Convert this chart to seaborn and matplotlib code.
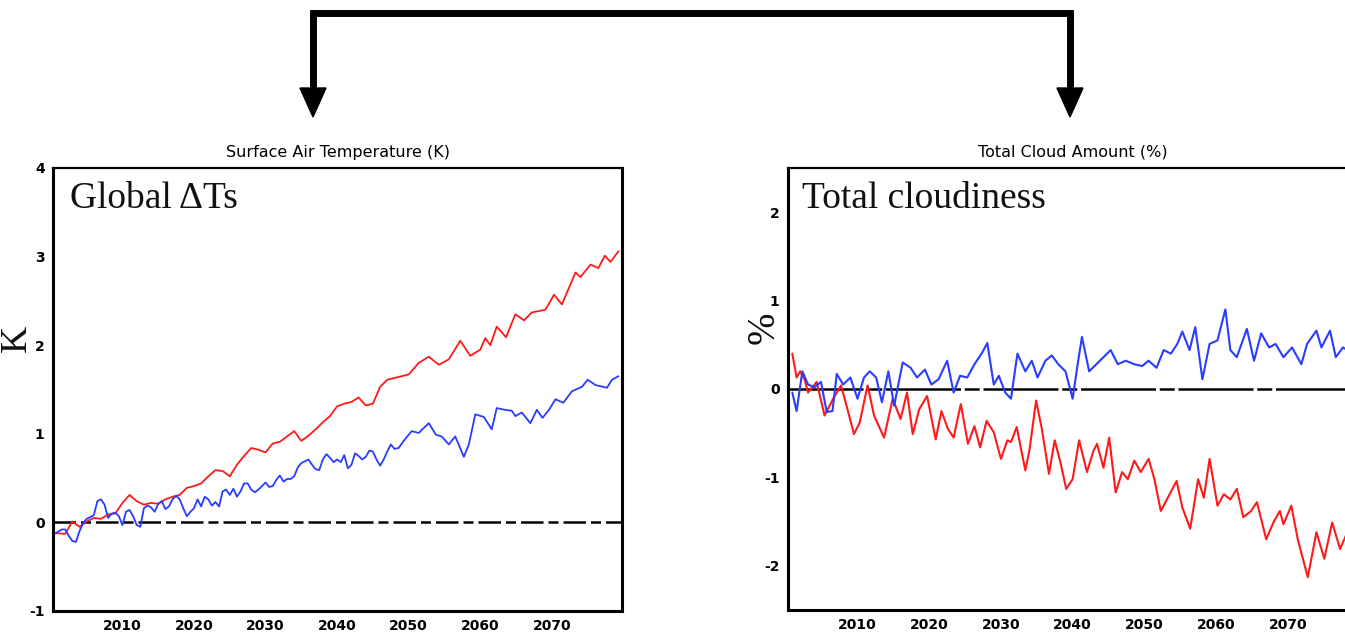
import matplotlib
matplotlib.use("Agg")
import matplotlib.pyplot as plt
import seaborn as sns
import numpy as np
import pandas as pd

# ---------------- data ----------------
t_red_years = [2000.5, 2002, 2003, 2004, 2005, 2006, 2007, 2008, 2009, 2010, 2011, 2012, 2013, 2014,
               2015, 2016, 2017, 2018, 2019, 2020, 2021, 2022, 2023, 2024, 2025, 2026, 2027, 2028,
               2029, 2030, 2031, 2032, 2033, 2034, 2035, 2036, 2037, 2038, 2039, 2040, 2041, 2042,
               2043, 2044, 2045, 2046, 2047, 2048, 2049, 2050.0, 2051.4, 2052.8, 2054.2, 2055.6,
               2057.2, 2058.6, 2060.0, 2060.7, 2061.4, 2062.3, 2063.6, 2064.9, 2066.1, 2067.2,
               2069.1, 2070.3, 2071.4, 2073.3, 2074.0, 2075.4, 2076.5, 2077.4, 2078.2, 2079.3]
t_red_vals = [-0.12, -0.13, 0.01, -0.05, 0.01, 0.05, 0.04, 0.09, 0.10, 0.22, 0.31, 0.24, 0.20, 0.22,
              0.21, 0.26, 0.29, 0.31, 0.39, 0.41, 0.44, 0.52, 0.59, 0.58, 0.52, 0.65, 0.75, 0.84,
              0.82, 0.79, 0.89, 0.91, 0.97, 1.03, 0.92, 0.98, 1.05, 1.13, 1.20, 1.31, 1.34, 1.36,
              1.41, 1.32, 1.34, 1.53, 1.61, 1.63, 1.65, 1.67, 1.80, 1.87, 1.78, 1.84,
              2.05, 1.88, 1.95, 2.08, 2.00, 2.21, 2.09, 2.35, 2.28, 2.37,
              2.40, 2.57, 2.46, 2.82, 2.77, 2.91, 2.87, 3.01, 2.94, 3.06]

t_blue_years = [2000.5, 2001.5, 2002, 2002.5, 2003, 2003.5, 2004, 2004.5, 2005, 2006, 2006.5, 2007,
                2007.5, 2008, 2008.5, 2009, 2009.5, 2010, 2010.5, 2011, 2011.5, 2012, 2012.5, 2013,
                2013.5, 2014, 2014.5, 2015, 2015.5, 2016, 2016.5, 2017, 2017.5, 2018, 2018.5, 2019,
                2019.5, 2020, 2020.5, 2021, 2021.5, 2022, 2022.5, 2023, 2023.5, 2024, 2024.5, 2025,
                2025.5, 2026, 2026.5, 2027, 2027.5, 2028, 2028.5, 2029, 2029.5, 2030, 2030.5, 2031,
                2031.5, 2032, 2032.5, 2033, 2033.5, 2034, 2034.5, 2035, 2035.5, 2036, 2036.5, 2037,
                2037.5, 2038, 2038.5, 2039, 2039.5, 2040, 2040.5, 2041, 2041.5, 2042, 2042.5, 2043,
                2043.5, 2044, 2044.5, 2045, 2045.5, 2046, 2046.5, 2047, 2047.5, 2048, 2048.6,
                2049.3, 2050.4, 2051.4, 2052.8, 2053.8, 2054.6, 2055.6, 2056.5, 2057.7, 2058.4,
                2059.3, 2060.5, 2061.6, 2062.3, 2063.5, 2064.4, 2064.9, 2065.8, 2067.0, 2067.9,
                2068.7, 2069.6, 2070.5, 2071.6, 2072.8, 2074.2, 2075.0, 2076.1, 2077.7, 2078.4, 2079.3]
t_blue_vals = [-0.13, -0.08, -0.08, -0.15, -0.21, -0.22, -0.10, -0.01, 0.04, 0.08, 0.24, 0.26,
               0.20, 0.05, 0.10, 0.11, 0.07, -0.03, 0.12, 0.14, 0.07, -0.03, -0.05, 0.16,
               0.19, 0.17, 0.12, 0.21, 0.24, 0.15, 0.18, 0.26, 0.30, 0.26, 0.16, 0.07,
               0.12, 0.16, 0.26, 0.18, 0.29, 0.26, 0.19, 0.23, 0.18, 0.35, 0.37, 0.31,
               0.38, 0.29, 0.35, 0.44, 0.44, 0.37, 0.34, 0.37, 0.41, 0.45, 0.40, 0.41,
               0.48, 0.53, 0.46, 0.49, 0.49, 0.52, 0.62, 0.67, 0.69, 0.71, 0.65, 0.60,
               0.59, 0.71, 0.77, 0.73, 0.68, 0.71, 0.68, 0.76, 0.61, 0.65, 0.78, 0.75,
               0.71, 0.74, 0.81, 0.80, 0.71, 0.64, 0.71, 0.80, 0.88, 0.83, 0.84,
               0.92, 1.03, 1.01, 1.12, 0.99, 0.97, 0.88, 0.97, 0.74, 0.88,
               1.22, 1.19, 1.05, 1.29, 1.27, 1.26, 1.20, 1.24, 1.12, 1.27,
               1.18, 1.27, 1.39, 1.35, 1.48, 1.53, 1.61, 1.55, 1.52, 1.61, 1.65]

c_red_years = [2000.9, 2001.5, 2002.0, 2002.6, 2003.1, 2004.3, 2005.4, 2006.6, 2007.7, 2008.6, 2009.5,
               2010.3, 2011.4, 2012.3, 2013.7, 2014.9, 2016.0, 2016.9, 2017.7, 2018.6, 2019.7,
               2020.9, 2021.7, 2022.6, 2023.4, 2024.4, 2025.4, 2026.3, 2027.1, 2028.0, 2029.0,
               2030.0, 2030.9, 2031.4, 2032.2, 2033.4, 2034.0, 2034.9, 2035.7, 2036.7, 2037.5,
               2038.3, 2039.1, 2040.0, 2040.9, 2042.0, 2042.9, 2043.4, 2044.3, 2045.1, 2046.0,
               2046.9, 2047.7, 2048.6, 2049.5, 2050.6, 2051.4, 2052.3, 2053.4, 2054.5, 2055.3,
               2056.4, 2057.5, 2058.3, 2059.1, 2060.2, 2061.1, 2062.0, 2062.9, 2063.8, 2064.9,
               2065.7, 2067.0, 2068.0, 2068.9, 2069.4, 2070.5, 2071.4, 2072.8, 2074.0, 2075.1,
               2076.2, 2077.3, 2078.1]
c_red_vals = [0.40, 0.13, 0.20, 0.11, -0.04, 0.08, -0.30, -0.11, 0.04, -0.23, -0.51,
              -0.38, 0.04, -0.30, -0.55, -0.11, -0.34, -0.04, -0.51, -0.23, -0.08,
              -0.57, -0.25, -0.45, -0.55, -0.17, -0.62, -0.42, -0.66, -0.36, -0.49,
              -0.79, -0.58, -0.60, -0.43, -0.92, -0.68, -0.13, -0.45, -0.96, -0.58,
              -0.83, -1.13, -1.02, -0.58, -0.94, -0.70, -0.62, -0.89, -0.55, -1.17,
              -0.94, -1.02, -0.81, -0.94, -0.79, -1.02, -1.38, -1.21, -1.04, -1.34,
              -1.58, -1.02, -1.23, -0.79, -1.32, -1.19, -1.25, -1.13, -1.45, -1.38,
              -1.28, -1.70, -1.51, -1.38, -1.53, -1.32, -1.70, -2.13, -1.62, -1.92,
              -1.51, -1.81, -1.66]

c_blue_years = [2000.9, 2001.5, 2002.3, 2003.1, 2004.0, 2004.9, 2005.7, 2006.5, 2007.1, 2008.0,
                2009.0, 2010.0, 2010.9, 2011.7, 2012.6, 2013.4, 2014.3, 2015.1, 2016.3, 2017.4,
                2018.3, 2019.4, 2020.3, 2021.3, 2022.5, 2023.4, 2024.3, 2025.3, 2026.3, 2027.3,
                2028.1, 2029.0, 2029.7, 2030.6, 2031.4, 2032.3, 2033.4, 2034.3, 2035.1, 2036.2,
                2037.1, 2038.0, 2039.0, 2040.0, 2040.7, 2041.3, 2042.3, 2043.3, 2044.3, 2045.3,
                2046.3, 2047.4, 2048.6, 2049.7, 2050.6, 2051.7, 2052.7, 2053.7, 2054.6, 2055.3,
                2056.3, 2057.1, 2058.1, 2059.1, 2060.2, 2061.3, 2062.0, 2062.9, 2064.3, 2065.3,
                2066.3, 2067.4, 2068.3, 2069.4, 2070.6, 2071.9, 2072.7, 2074.0, 2074.7, 2075.9,
                2076.7, 2077.7, 2078.1]
c_blue_vals = [-0.04, -0.25, 0.20, 0.05, 0.02, 0.08, -0.26, -0.25, 0.17, 0.05,
               0.13, -0.11, 0.13, 0.20, 0.13, -0.15, 0.20, -0.19, 0.30, 0.24,
               0.13, 0.22, 0.05, 0.11, 0.32, -0.04, 0.15, 0.13, 0.28, 0.40,
               0.52, 0.05, 0.15, -0.04, -0.11, 0.40, 0.20, 0.32, 0.13, 0.32,
               0.38, 0.28, 0.20, -0.11, 0.28, 0.59, 0.20, 0.28, 0.36, 0.44,
               0.28, 0.32, 0.28, 0.26, 0.32, 0.24, 0.44, 0.40, 0.51, 0.65,
               0.44, 0.70, 0.11, 0.51, 0.55, 0.90, 0.44, 0.36, 0.68, 0.32,
               0.63, 0.47, 0.51, 0.36, 0.47, 0.28, 0.51, 0.66, 0.47, 0.66,
               0.36, 0.47, 0.45]

x_ticks = [2010, 2020, 2030, 2040, 2050, 2060, 2070]
t_yticks = [-1, 0, 1, 2, 3, 4]
c_yticks = [-2, -1, 0, 1, 2]

left_title = "Surface Air Temperature (K)"
right_title = "Total Cloud Amount (%)"
left_label = "Global ΔTs"
right_label = "Total cloudiness"

# ---------------- style ----------------
W, H = 1345, 635
sns.set_style("white")
plt.rcParams['font.family'] = ['DejaVu Sans']
RED = "#ff1a1a"
BLUE = "#2a3cff"

fig = plt.figure(figsize=(W / 100, H / 100), dpi=100)

def px_axes(x0, x1, ytop, ybot):
    return fig.add_axes([x0 / W, 1 - ybot / H, (x1 - x0) / W, (ybot - ytop) / H])

axL = px_axes(53, 622, 168, 611)
axR = px_axes(788, 1358, 168, 610)

def style_axis(ax, yticks, ylim):
    ax.set_xlim(2000.3, 2079.8)
    ax.set_ylim(*ylim)
    ax.set_xticks(x_ticks)
    ax.set_yticks(yticks)
    ax.set_xticklabels([str(v) for v in x_ticks], fontsize=10, fontweight='bold', color='black')
    ax.set_yticklabels([str(v) for v in yticks], fontsize=10, fontweight='bold', color='black')
    ax.tick_params(direction='out', length=3, width=1.5, pad=3, color='black')
    for side, sp in ax.spines.items():
        sp.set_visible(True)
        sp.set_color('black')
        sp.set_linewidth(2.2 if side != 'top' else 1.6)
    ax.set_xlabel("")
    ax.set_ylabel("")
    ax.grid(False)

dfT = pd.DataFrame({"year": t_red_years, "val": t_red_vals})
dfTb = pd.DataFrame({"year": t_blue_years, "val": t_blue_vals})
dfC = pd.DataFrame({"year": c_red_years, "val": c_red_vals})
dfCb = pd.DataFrame({"year": c_blue_years, "val": c_blue_vals})

axL.axhline(0, color='black', lw=1.8, ls=(0, (9, 2, 4, 2)), zorder=1)
sns.lineplot(data=dfT, x="year", y="val", ax=axL, color=RED, lw=1.3, sort=False, estimator=None)
sns.lineplot(data=dfTb, x="year", y="val", ax=axL, color=BLUE, lw=1.3, sort=False, estimator=None)
style_axis(axL, t_yticks, (-1, 4))

axR.axhline(0, color='black', lw=1.8, ls=(0, (30, 1.5, 6, 1.5)), zorder=1)
sns.lineplot(data=dfC, x="year", y="val", ax=axR, color=RED, lw=1.5, sort=False, estimator=None)
sns.lineplot(data=dfCb, x="year", y="val", ax=axR, color=BLUE, lw=1.5, sort=False, estimator=None)
style_axis(axR, c_yticks, (-2.5, 2.5))

for ax, title in ((axL, left_title), (axR, right_title)):
    ax.set_title(title, fontsize=11.5, pad=8, color='black')

axL.text(0.03, 0.97, left_label, transform=axL.transAxes, ha='left', va='top',
         fontsize=27, family='Liberation Serif', color='#111111')
axR.text(0.025, 0.97, right_label, transform=axR.transAxes, ha='left', va='top',
         fontsize=27, family='Liberation Serif', color='#111111')

fig.text(17 / W, 1 - 338 / H, "K", rotation=90, ha='center', va='center',
         fontsize=27, family='Liberation Serif', color='#111111')
fig.text(764 / W, 1 - 328 / H, "%", rotation=90, ha='center', va='center',
         fontsize=28, family='Liberation Serif', color='#111111')

# ---------------- connecting arrow on top ----------------
ov = fig.add_axes([0, 0, 1, 1], zorder=5)
ov.set_xlim(0, W)
ov.set_ylim(H, 0)
ov.axis('off')
ARROW_LX, ARROW_RX, ARROW_TOP, SHAFT_END = 313, 1070, 13, 92
HEAD_TOP, HEAD_TIP, HEAD_HALF = 88, 117, 13
ov.plot([ARROW_LX, ARROW_LX, ARROW_RX, ARROW_RX], [SHAFT_END, ARROW_TOP, ARROW_TOP, SHAFT_END],
        color='black', lw=5, solid_joinstyle='miter', solid_capstyle='butt')
for xc in (ARROW_LX, ARROW_RX):
    ov.add_patch(plt.Polygon([[xc - HEAD_HALF, HEAD_TOP], [xc + HEAD_HALF, HEAD_TOP], [xc, HEAD_TIP]],
                             closed=True, color='black'))

fig.savefig("out.png", dpi=100)
